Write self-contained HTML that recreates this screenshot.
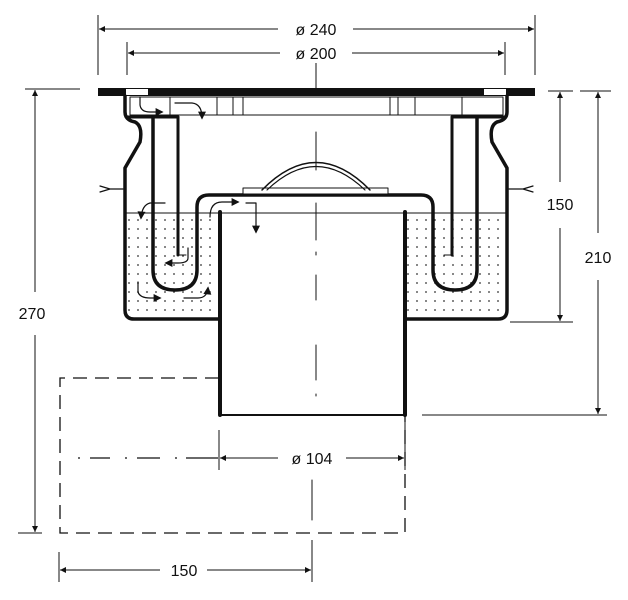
<!DOCTYPE html>
<html><head><meta charset="utf-8"><style>
html,body{margin:0;padding:0;background:#fff}
svg{display:block}
text{font-family:"Liberation Sans",Arial,sans-serif;font-size:16px;fill:#111}
</style></head><body>
<svg width="628" height="600" viewBox="0 0 628 600" xmlns="http://www.w3.org/2000/svg">
<defs>
<pattern id="dots" width="9" height="9" patternUnits="userSpaceOnUse">
<circle cx="3" cy="4" r="0.9" fill="#333"/>
</pattern>
<marker id="ar" viewBox="0 0 10 10" refX="10" refY="5" markerWidth="9" markerHeight="6" orient="auto-start-reverse" markerUnits="userSpaceOnUse">
<path d="M0,0 L10,5 L0,10 z" fill="#111"/></marker>
<marker id="fa" viewBox="0 0 10 10" refX="8" refY="5" markerWidth="10" markerHeight="8" orient="auto" markerUnits="userSpaceOnUse">
<path d="M0,0 L10,5 L0,10 z" fill="#111"/></marker>
</defs>

<rect x="126" y="213" width="94" height="104" fill="url(#dots)"/>
<rect x="406" y="213" width="101" height="104" fill="url(#dots)"/>
<line x1="125" y1="213" x2="220" y2="213" stroke="#111" stroke-width="1"/>
<line x1="405" y1="213" x2="508" y2="213" stroke="#111" stroke-width="1"/>

<g fill="none" stroke="#111" stroke-linecap="round" stroke-linejoin="round">
<rect x="98" y="88" width="437" height="8" fill="#111" stroke="none"/>
<rect x="126" y="89" width="22" height="6" fill="#fff" stroke="none"/>
<rect x="484" y="89" width="22" height="6" fill="#fff" stroke="none"/>
<rect x="130" y="97" width="373" height="18" stroke-width="1"/>
<path d="M170,97V115 M217,97V115 M233,97V115 M243,97V115 M390,97V115 M398,97V115 M415,97V115 M462,97V115" stroke-width="1"/>
<path d="M125,96 V112 Q125,120 135,122 Q143,126 140,142 L125,168 V310 Q125,319 134,319 H220" stroke-width="3.5"/>
<path d="M507,96 V112 Q507,120 497,122 Q489,126 492,142 L507,168 V310 Q507,319 498,319 H405" stroke-width="3.5"/>
<path d="M128,117 H178" stroke-width="3"/>
<path d="M504,117 H452" stroke-width="3"/>
<path d="M153,118 V270 Q153,290 175,290 Q197,290 197,270 V207 Q197,195 209,195 H421 Q433,195 433,207 V270 Q433,290 455,290 Q477,290 477,270 V118" stroke-width="3.5"/>
<path d="M178,117 V255 M452,117 V255" stroke-width="3"/>
<path d="M178,255 H186 M452,255 H444" stroke-width="1"/>
<path d="M220,212 V415 M405,212 V415" stroke-width="4"/>
<path d="M220,415 H405" stroke-width="2"/>
<path d="M220,213 H405" stroke-width="1"/>
<rect x="243" y="188" width="145" height="6" stroke-width="1" fill="#fff"/>
<path d="M262,190 Q316,135 370,190" stroke-width="1.5"/>
<path d="M267,190 Q316,143 365,190" stroke-width="1.2"/>
<path d="M100,186 L110,189 L100,192 M110,189 H123" stroke-width="1.2"/>
<path d="M533,186 L523,189 L533,192 M523,189 H509" stroke-width="1.2"/>
<path d="M316,132 V170 M316,203 V240 M316,252 V255 M316,275 V300 M316,345 V380 M316,394 V396" stroke-width="1"/>
<path d="M312,480 V520" stroke-width="1"/>
<path d="M140,97 V105 Q141,112 150,112 H162" stroke-width="1.2" marker-end="url(#fa)"/>
<path d="M175,103 H192 Q202,104 202,118" stroke-width="1.2" marker-end="url(#fa)"/>
<path d="M165,203 H150 Q142,205 141,218" stroke-width="1.2" marker-end="url(#fa)"/>
<path d="M210,217 Q210,202 222,202 H238" stroke-width="1.2" marker-end="url(#fa)"/>
<path d="M246,203 H256 V232" stroke-width="1.2" marker-end="url(#fa)"/>
<path d="M188,248 V258 Q188,263 178,263 H166" stroke-width="1.2" marker-end="url(#fa)"/>
<path d="M138,282 V292 Q140,298 150,298 H160" stroke-width="1.2" marker-end="url(#fa)"/>
<path d="M184,298 H198 Q207,298 208,288" stroke-width="1.2" marker-end="url(#fa)"/>
</g>

<g fill="none" stroke="#111" stroke-width="1.3" stroke-dasharray="14,8">
<path d="M219,378 H60 V533 H405 V415"/>
</g>
<path d="M78,458 H80 M90,458 H110 M125,458 H127 M137,458 H160 M175,458 H177 M186,458 H218" stroke="#111" stroke-width="1.2" fill="none"/>

<g fill="none" stroke="#111" stroke-width="1">
<path d="M98,15 V75 M535,15 V75 M127,42 V75 M505,42 V75"/>
<path d="M99,29 H278 M353,29 H534" marker-start="url(#ar)" marker-end="url(#ar)"/>
<path d="M128,53 H280 M352,53 H504" marker-start="url(#ar)" marker-end="url(#ar)"/>
<path d="M316,63 V88"/>
<path d="M25,89 H80 M18,533 H42"/>
<path d="M35,292 V90" marker-end="url(#ar)"/>
<path d="M35,335 V532" marker-end="url(#ar)"/>
<path d="M548,91 H573 M580,91 H611 M510,322 H573 M422,415 H607"/>
<path d="M560,182 V92" marker-end="url(#ar)"/>
<path d="M560,228 V321" marker-end="url(#ar)"/>
<path d="M598,233 V92" marker-end="url(#ar)"/>
<path d="M598,280 V414" marker-end="url(#ar)"/>
<path d="M219,430 V470 M405,420 V470"/>
<path d="M220,458 H278 M346,458 H404" marker-start="url(#ar)" marker-end="url(#ar)"/>
<path d="M59,552 V582 M312,540 V582"/>
<path d="M60,570 H160 M207,570 H311" marker-start="url(#ar)" marker-end="url(#ar)"/>
</g>
<text x="316" y="35" text-anchor="middle">ø  240</text>
<text x="316" y="59" text-anchor="middle">ø  200</text>
<text x="312" y="464" text-anchor="middle">ø  104</text>
<text x="184" y="576" text-anchor="middle">150</text>
<text x="32" y="319" text-anchor="middle">270</text>
<text x="598" y="263" text-anchor="middle">210</text>
<text x="560" y="210" text-anchor="middle" font-size="14">150</text>
</svg>
</body></html>
